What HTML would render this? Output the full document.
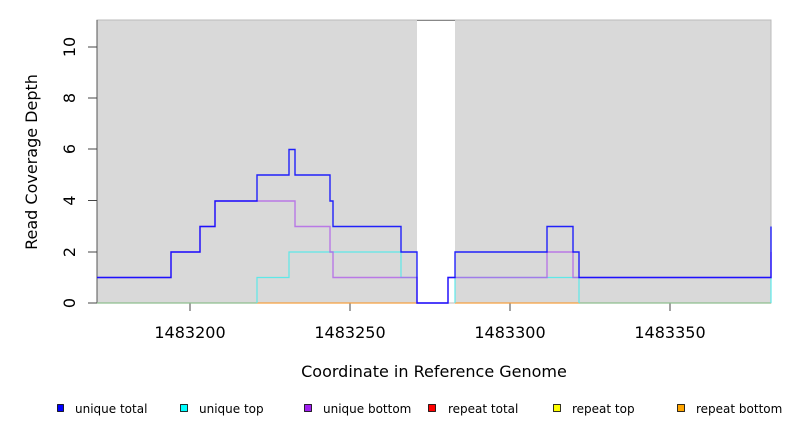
<!DOCTYPE html>
<html><head><meta charset="utf-8"><style>body{margin:0;background:#fff}svg{display:block}text{font-family:"DejaVu Sans","Liberation Sans",sans-serif}</style></head><body>
<svg width="792" height="432" xmlns="http://www.w3.org/2000/svg">
<rect x="97" y="20" width="320" height="283" fill="#d9d9d9"/>
<rect x="455" y="20" width="316" height="283" fill="#d9d9d9"/>
<line x1="417" y1="20.5" x2="455" y2="20.5" stroke="#555" stroke-width="1"/>
<rect x="97" y="20" width="674" height="283" fill="none" stroke="#bbb" stroke-width="1"/>
<line x1="97" y1="20" x2="97" y2="303" stroke="#555"/>
<g stroke="#444" stroke-width="1">
<line x1="88" y1="303" x2="97" y2="303"/><line x1="88" y1="252" x2="97" y2="252"/><line x1="88" y1="200.5" x2="97" y2="200.5"/><line x1="88" y1="149" x2="97" y2="149"/><line x1="88" y1="98" x2="97" y2="98"/><line x1="88" y1="47" x2="97" y2="47"/>
<line x1="190" y1="303" x2="190" y2="311"/><line x1="350" y1="303" x2="350" y2="311"/><line x1="510" y1="303" x2="510" y2="311"/><line x1="670" y1="303" x2="670" y2="311"/>
</g>
<g font-size="16" text-anchor="middle" fill="#000">
<text transform="translate(75,303) rotate(-90)">0</text>
<text transform="translate(75,252) rotate(-90)">2</text>
<text transform="translate(75,200.5) rotate(-90)">4</text>
<text transform="translate(75,149) rotate(-90)">6</text>
<text transform="translate(75,98) rotate(-90)">8</text>
<text transform="translate(75,47) rotate(-90)">10</text>
<text transform="translate(37,162) rotate(-90)">Read Coverage Depth</text>
<text x="190" y="338">1483200</text><text x="350" y="338">1483250</text><text x="510" y="338">1483300</text><text x="670" y="338">1483350</text>
<text x="434" y="377">Coordinate in Reference Genome</text>
</g>
<line x1="97" y1="303" x2="257" y2="303" stroke="#8fbf8f" stroke-width="1.2"/>
<line x1="257" y1="303" x2="417" y2="303" stroke="#f5a040" stroke-width="1.2"/>
<line x1="455" y1="303" x2="579" y2="303" stroke="#f5a040" stroke-width="1.2"/>
<line x1="579" y1="303" x2="771" y2="303" stroke="#8fbf8f" stroke-width="1.2"/>
<polyline fill="none" stroke="#5ee8e8" stroke-width="1.2" points="257,303 257,277.5 289,277.5 289,252 401,252 401,277.5 417,277.5"/>
<polyline fill="none" stroke="#5ee8e8" stroke-width="1.2" points="455,303 455,277.5 579,277.5 579,303"/>
<polyline fill="none" stroke="#5ee8e8" stroke-width="1.2" points="771,303 771,277.5"/>
<polyline fill="none" stroke="#b060e8" stroke-opacity="0.8" stroke-width="1.4" points="97,277.5 171,277.5 171,252 200,252 200,226.5 215,226.5 215,201 295,201 295,226.5 330,226.5 330,252 333,252 333,277.5 417,277.5 417,303 448,303 448,277.5 547,277.5 547,252 573,252 573,277.5 771,277.5 771,252"/>
<polyline fill="none" stroke="#0000ff" stroke-opacity="0.85" stroke-width="1.4" points="97,277.5 171,277.5 171,252 200,252 200,226.5 215,226.5 215,201 257,201 257,175 289,175 289,149.5 295,149.5 295,175 330,175 330,201 333,201 333,226.5 401,226.5 401,252 417,252 417,303 448,303 448,277.5 455,277.5 455,252 547,252 547,226.5 573,226.5 573,252 579,252 579,277.5 771,277.5 771,226.5"/>
<g font-size="12" fill="#000" stroke="#000" stroke-width="0.8">
<rect x="57.5" y="404.5" width="6" height="7" fill="#0000ff"/>
<rect x="180.5" y="404.5" width="7" height="7" fill="#00ffff"/>
<rect x="304.5" y="404.5" width="7" height="7" fill="#a020f0"/>
<rect x="428.5" y="404.5" width="7" height="7" fill="#ff0000"/>
<rect x="553.5" y="404.5" width="7" height="7" fill="#ffff00"/>
<rect x="677.5" y="404.5" width="7" height="7" fill="#ffa500"/>
</g>
<g font-size="12" fill="#000">
<text x="75" y="413">unique total</text>
<text x="199" y="413">unique top</text>
<text x="323" y="413">unique bottom</text>
<text x="448" y="413">repeat total</text>
<text x="572" y="413">repeat top</text>
<text x="696" y="413">repeat bottom</text>
</g>
</svg>
</body></html>
